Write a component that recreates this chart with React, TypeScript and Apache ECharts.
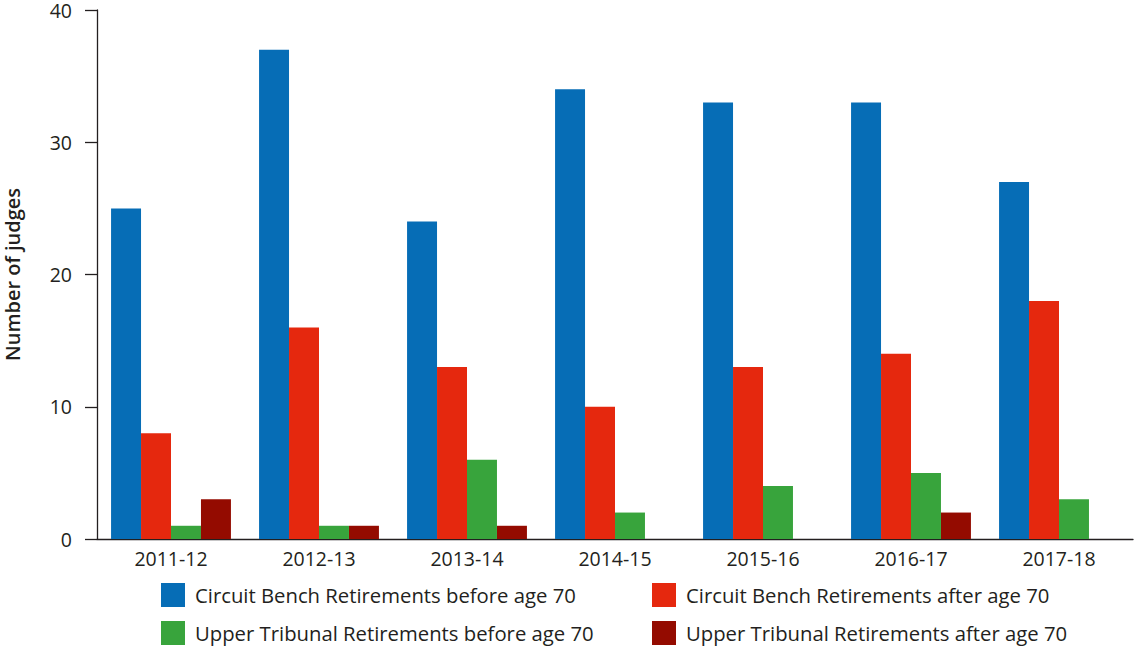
import React, { useEffect, useRef } from "react";
import * as echarts from "echarts";

const categories = ["2011-12", "2012-13", "2013-14", "2014-15", "2015-16", "2016-17", "2017-18"];
const seriesNames = [
  "Circuit Bench Retirements before age 70",
  "Circuit Bench Retirements after age 70",
  "Upper Tribunal Retirements before age 70",
  "Upper Tribunal Retirements after age 70",
];
const circuitBefore = [25, 37, 24, 34, 33, 33, 27];
const circuitAfter = [8, 16, 13, 10, 13, 14, 18];
const tribunalBefore = [1, 1, 6, 2, 4, 5, 3];
const tribunalAfter = [3, 1, 1, 0, 0, 2, 0];
const colors = ["#066db6", "#e5280e", "#38a43c", "#940b00"];
const yTicks = { min: 0, max: 40, interval: 10 };

const FONT = "Open Sans";

export default function App() {
  const ref = useRef<HTMLDivElement>(null);
  useEffect(() => {
    if (!ref.current) return;
    const chart = echarts.init(ref.current, undefined, { renderer: "svg" });
    const values = [circuitBefore, circuitAfter, tribunalBefore, tribunalAfter];
    const legendPos = [
      { left: 161, top: 583 },
      { left: 652, top: 583 },
      { left: 161, top: 621 },
      { left: 652, top: 621 },
    ];
    chart.setOption({
      animation: false,
      textStyle: { fontFamily: FONT },
      grid: { left: 97, right: 3, top: 10, bottom: 108, containLabel: false, outerBoundsMode: "none" },
      legend: seriesNames.map((n, i) => ({
        data: [n],
        left: legendPos[i].left,
        top: legendPos[i].top,
        itemWidth: 24,
        itemHeight: 24,
        itemGap: 0,
        icon: "rect",
        textStyle: { fontFamily: FONT, fontSize: 20.3, color: "#231f20", padding: [0, 0, 0, 5] },
        padding: 0,
      })),
      xAxis: {
        type: "category",
        data: categories,
        axisLine: { lineStyle: { color: "#231f20", width: 1.3 } },
        axisTick: { alignWithLabel: false, length: 12, lineStyle: { color: "#231f20", width: 1.3 } },
        axisLabel: { fontFamily: FONT, fontSize: 19.5, color: "#231f20", margin: 9 },
      },
      yAxis: {
        type: "value",
        min: yTicks.min,
        max: yTicks.max,
        interval: yTicks.interval,
        name: "Number of judges",
        nameLocation: "middle",
        nameGap: 75,
        nameMoveOverlap: false,
        nameTextStyle: { fontFamily: FONT, fontSize: 20, fontWeight: 600, color: "#231f20" },
        axisLine: { show: true, lineStyle: { color: "#231f20", width: 1.3 } },
        axisTick: { show: true, length: 12, lineStyle: { color: "#231f20", width: 1.3 } },
        axisLabel: { fontFamily: FONT, fontSize: 19.5, lineHeight: 18, color: "#231f20", margin: 25 },
        splitLine: { show: false },
      },
      series: seriesNames.map((n, i) => ({
        name: n,
        type: "bar",
        data: values[i],
        barGap: "0%",
        barCategoryGap: "19%",
        itemStyle: { color: colors[i] },
      })),
    });
    return () => chart.dispose();
  }, []);
  return <div ref={ref} style={{ width: 1136, height: 647, position: "absolute", left: 0, top: 0 }} />;
}
